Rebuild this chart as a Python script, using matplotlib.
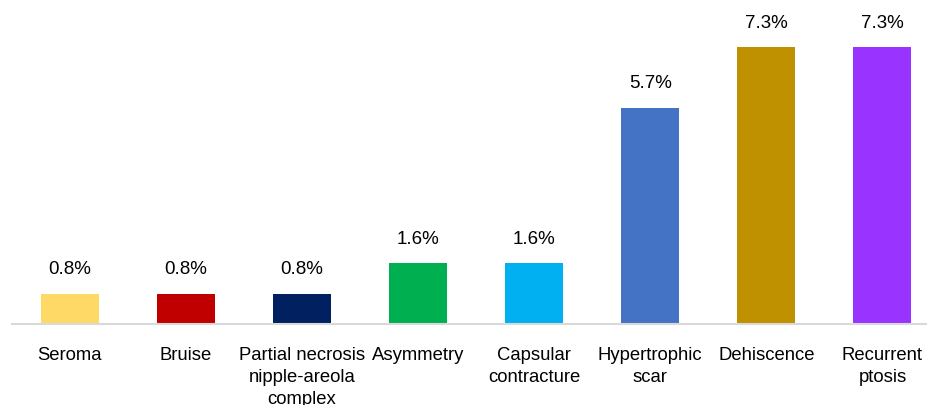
import matplotlib.pyplot as plt

# 데이터
categories = ["Seroma", "Bruise", "Partial necrosis\nnipple-areola\ncomplex", "Asymmetry",
              "Capsular\ncontracture", "Hypertrophic\nscar", "Dehiscence", "Recurrent\nptosis"]
values = [0.8, 0.8, 0.8, 1.6, 1.6, 5.7, 7.3, 7.3]
labels = ["0.8%", "0.8%", "0.8%", "1.6%", "1.6%", "5.7%", "7.3%", "7.3%"]
colors = ["#FFD966", "#C00000", "#002060", "#00B050", "#00B0F0", "#4472C4", "#BF9000", "#9933FF"]

plt.rcParams['font.family'] = ['Liberation Sans', 'DejaVu Sans']

fig = plt.figure(figsize=(9.27, 4.05), dpi=100)
ax = fig.add_axes([11.5 / 927, 81 / 405, 929 / 927, 324 / 405])

x = range(len(values))
bars = ax.bar(x, values, width=0.5, color=colors, zorder=2)

# 값 라벨
for xi, v, lab in zip(x, values, labels):
    ax.annotate(lab, (xi, v), xytext=(0, 11), textcoords='offset points',
                ha='center', va='bottom', fontsize=13.5)

ax.set_xlim(-0.5, len(values) - 0.5)
ax.set_ylim(0, 8.54)
ax.set_xticks(list(x))
ax.set_xticklabels(categories, fontsize=13.3, linespacing=1.4)
ax.tick_params(axis='x', length=0, pad=16.5)
ax.set_yticks([])

for s in ['top', 'right', 'left']:
    ax.spines[s].set_visible(False)
ax.spines['bottom'].set_color('#D9D9D9')
ax.spines['bottom'].set_linewidth(1.5)
ax.spines['bottom'].set_zorder(3)

fig.savefig("out.png", dpi=100)
